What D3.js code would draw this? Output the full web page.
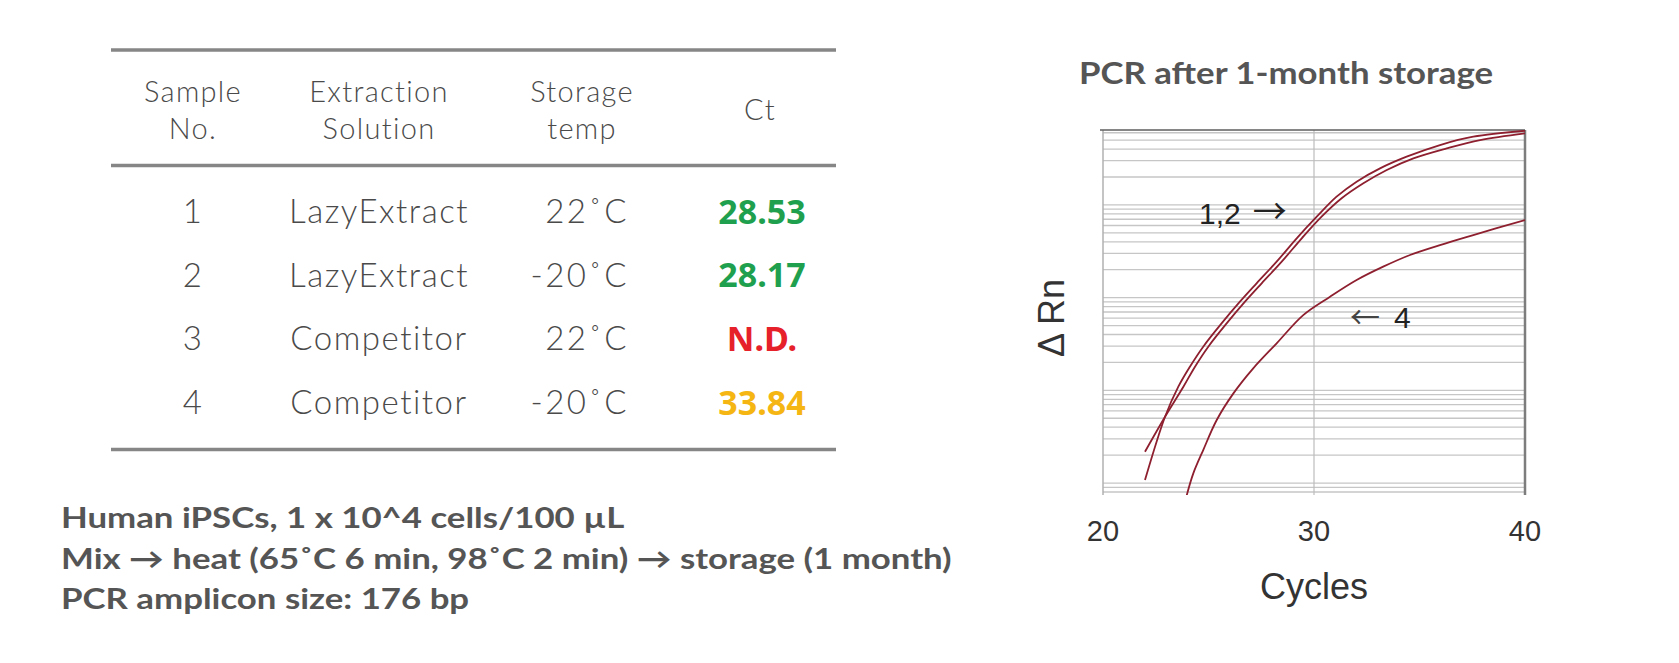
<!DOCTYPE html>
<html>
<head>
<meta charset="utf-8">
<script src="https://cdn.jsdelivr.net/npm/d3@7"></script>
<style>
  html, body { margin: 0; padding: 0; background: #fff; }
  svg { display: block; }
</style>
</head>
<body>
<svg id="chart" width="1679" height="663"></svg>
<script>
// ---------------- DATA ----------------
const headers = [["Sample", "No."], ["Extraction", "Solution"], ["Storage", "temp"], ["Ct"]];
const sampleNo = ["1", "2", "3", "4"];
const extraction = ["LazyExtract", "LazyExtract", "Competitor", "Competitor"];
const storageTemp = ["22˚C", "-20˚C", "22˚C", "-20˚C"];
const ctValues = ["28.53", "28.17", "N.D.", "33.84"];

const notes = [
  "Human iPSCs, 1 x 10^4 cells/100 µL",
  "Mix → heat (65˚C 6 min, 98˚C 2 min) → storage (1 month)",
  "PCR amplicon size: 176 bp"
];

const chartTitle = "PCR after 1-month storage";
const xTicks = [20, 30, 40];

// amplification curves (cycle, ΔRn)
const cyclesA = [21.99, 22.94, 23.57, 24.12, 24.75, 25.62, 26.49, 27.28, 28.23, 29.18, 30.13, 31.07, 32.02, 33.13, 34.39, 35.97, 37.55, 40.0];
const rnA     = [0.001076, 0.00519, 0.01094, 0.01799, 0.02958, 0.05272, 0.09036, 0.1426, 0.2443, 0.4365, 0.7464, 1.227, 1.782, 2.477, 3.311, 4.426, 5.445, 6.31];
const cyclesB = [21.99, 22.94, 23.81, 24.36, 24.99, 25.86, 26.73, 27.52, 28.47, 29.42, 30.36, 31.31, 32.34, 33.45, 34.71, 36.29, 37.87, 40.0];
const rnB     = [0.002178, 0.00519, 0.01094, 0.01799, 0.02958, 0.05272, 0.09036, 0.1426, 0.2443, 0.4365, 0.7464, 1.178, 1.710, 2.377, 3.177, 4.074, 5.012, 5.916];
const cycles4 = [23.97, 24.28, 24.75, 25.39, 26.18, 27.12, 28.23, 29.49, 30.76, 32.02, 33.28, 34.55, 35.97, 37.55, 40.0];
const rn4     = [0.00074, 0.001271, 0.00227, 0.004786, 0.009268, 0.01726, 0.03214, 0.0648, 0.1023, 0.1549, 0.2158, 0.2884, 0.3690, 0.4732, 0.6871];

const labelsCurves = [["1,2", "→"], ["←", "4"]];

// ---------------- DRAW ----------------
const svg = d3.select("#chart");

// ---- Table ----
const tblFont = "Lato, 'Noto Sans', sans-serif";
const tableLeft = 111, tableRight = 836;
const colX = d3.scaleOrdinal().domain([0, 1, 2, 3]).range([193, 379, 582, 760]);
const rowY = d3.scalePoint().domain(sampleNo).range([211.5, 402.5]);
const ctColor = d3.scaleOrdinal().domain(sampleNo).range(["#1fa04e", "#1fa04e", "#e6212a", "#f5b614"]);

svg.selectAll("line.tbl")
  .data([50, 165.5, 449.5])
  .join("line")
  .attr("class", "tbl")
  .attr("x1", tableLeft).attr("x2", tableRight)
  .attr("y1", d => d).attr("y2", d => d)
  .attr("stroke", "#868686").attr("stroke-width", 3.5);

const headG = svg.append("g");
headers.forEach((lines, i) => {
  const t = headG.append("text")
    .attr("x", colX(i))
    .attr("text-anchor", "middle")
    .attr("font-family", tblFont)
    .attr("font-weight", 300)
    .attr("font-size", 29)
    .attr("letter-spacing", 1.3)
    .attr("fill", "#4a4a4a");
  if (lines.length === 1) {
    t.append("tspan").attr("x", colX(i)).attr("y", 110).attr("dy", "0.35em").text(lines[0]);
  } else {
    lines.forEach((l, j) => {
      t.append("tspan").attr("x", colX(i)).attr("y", 92 + j * 36.5).attr("dy", "0.35em").text(l);
    });
  }
});

const bodyG = svg.append("g")
  .attr("font-family", tblFont)
  .attr("font-weight", 300)
  .attr("font-size", 33)
  .attr("letter-spacing", 1.5)
  .attr("fill", "#4a4a4a");

bodyG.selectAll("text.no").data(sampleNo).join("text")
  .attr("class", "no")
  .attr("x", colX(0)).attr("y", d => rowY(d)).attr("dy", "0.35em")
  .attr("text-anchor", "middle").text(d => d);

bodyG.selectAll("text.ext").data(extraction).join("text")
  .attr("class", "ext")
  .attr("x", colX(1)).attr("y", (d, i) => rowY(sampleNo[i])).attr("dy", "0.35em")
  .attr("text-anchor", "middle").text(d => d);

bodyG.selectAll("text.tmp").data(storageTemp).join("text")
  .attr("class", "tmp")
  .attr("x", 629).attr("y", (d, i) => rowY(sampleNo[i])).attr("dy", "0.35em")
  .attr("text-anchor", "end")
  .attr("letter-spacing", 2.5)
  .text(d => d);

svg.selectAll("text.ct").data(ctValues).join("text")
  .attr("class", "ct")
  .attr("x", colX(3) + 2).attr("y", (d, i) => rowY(sampleNo[i])).attr("dy", "0.36em")
  .attr("text-anchor", "middle")
  .attr("font-family", "'Noto Sans', 'Liberation Sans', sans-serif")
  .attr("font-weight", 700)
  .attr("font-size", 34)
  .attr("fill", (d, i) => ctColor(sampleNo[i]))
  .text(d => d);

// ---- Notes (wide geometric face approximated by a horizontally stretched Lato) ----
const noteScaleX = 1.2;
svg.selectAll("text.note").data(notes).join("text")
  .attr("class", "note")
  .attr("transform", (d, i) => `translate(61,${518 + i * 40.5}) scale(${noteScaleX},1)`)
  .attr("dy", "0.36em")
  .attr("font-family", "Lato, 'Open Sans', sans-serif")
  .attr("font-weight", 700)
  .attr("font-size", 29)
  .attr("fill", "#555")
  .text(d => d);

// ---- Chart ----
const plot = { left: 1103, right: 1525, top: 130, bottom: 495 };
const x = d3.scaleLinear().domain([20, 40]).range([plot.left, plot.right]);
const y = d3.scaleLog().domain([Math.pow(10, -3.129), Math.pow(10, 0.808)]).range([plot.bottom, plot.top]);

svg.append("text")
  .attr("transform", "translate(1286,84) scale(1.16,1)")
  .attr("text-anchor", "middle")
  .attr("font-family", "Lato, 'Open Sans', sans-serif")
  .attr("font-weight", 700)
  .attr("font-size", 30)
  .attr("fill", "#555")
  .text(chartTitle);

svg.append("defs").append("clipPath").attr("id", "plotclip")
  .append("rect")
  .attr("x", plot.left).attr("y", plot.top)
  .attr("width", plot.right - plot.left).attr("height", plot.bottom - plot.top);

// horizontal log grid
const gridVals = [];
for (let d = -4; d <= 1; d++) {
  for (let k = 1; k <= 9; k++) {
    const v = k * Math.pow(10, d);
    if (v >= y.domain()[0] && v <= y.domain()[1]) gridVals.push(v);
  }
}
svg.append("g").selectAll("line").data(gridVals).join("line")
  .attr("x1", plot.left).attr("x2", plot.right)
  .attr("y1", d => y(d)).attr("y2", d => y(d))
  .attr("stroke", "#c6c6c6").attr("stroke-width", 1.3);

// vertical line at 30
svg.append("line")
  .attr("x1", x(30)).attr("x2", x(30))
  .attr("y1", plot.top).attr("y2", plot.bottom)
  .attr("stroke", "#bcbcbc").attr("stroke-width", 1.2);

// borders
svg.append("line").attr("x1", plot.left).attr("x2", plot.left).attr("y1", plot.top).attr("y2", plot.bottom)
  .attr("stroke", "#b0b0b0").attr("stroke-width", 1.5);
svg.append("line").attr("x1", plot.right).attr("x2", plot.right).attr("y1", plot.top).attr("y2", plot.bottom)
  .attr("stroke", "#7d7d7d").attr("stroke-width", 2.5);
svg.append("line").attr("x1", plot.left - 3).attr("x2", plot.right).attr("y1", plot.top).attr("y2", plot.top)
  .attr("stroke", "#5e5e5e").attr("stroke-width", 1.6);

// curves
const line = d3.line()
  .x(d => x(d[0])).y(d => y(d[1]))
  .curve(d3.curveCatmullRom.alpha(0.5));

const series = [
  d3.zip(cyclesA, rnA),
  d3.zip(cyclesB, rnB),
  d3.zip(cycles4, rn4)
];
svg.append("g").attr("clip-path", "url(#plotclip)")
  .selectAll("path").data(series).join("path")
  .attr("d", line)
  .attr("fill", "none")
  .attr("stroke", "#8e1f2f")
  .attr("stroke-width", 1.8);

// curve labels
const lblFont = "'Liberation Sans', Arial, sans-serif";
const arrowFont = "'Noto Sans CJK JP', 'DejaVu Sans', sans-serif";
const l1 = svg.append("text")
  .attr("x", 1199).attr("y", 213).attr("dy", "0.35em")
  .attr("font-family", lblFont)
  .attr("font-size", 30).attr("fill", "#222");
l1.append("tspan").text(labelsCurves[0][0]);
l1.append("tspan").attr("dx", 12).attr("font-family", arrowFont).attr("font-size", 34).text(labelsCurves[0][1]);

const l4 = svg.append("text")
  .attr("x", 1350).attr("y", 317).attr("dy", "0.35em")
  .attr("font-family", lblFont)
  .attr("font-size", 30).attr("fill", "#222");
l4.append("tspan").attr("font-family", arrowFont).attr("font-size", 30).attr("fill", "#444").text(labelsCurves[1][0]);
l4.append("tspan").attr("dx", 14).text(labelsCurves[1][1]);

// x tick labels
svg.append("g").selectAll("text").data(xTicks).join("text")
  .attr("x", d => x(d)).attr("y", 531).attr("dy", "0.35em")
  .attr("text-anchor", "middle")
  .attr("font-family", lblFont)
  .attr("font-size", 29).attr("fill", "#333")
  .text(d => d);

svg.append("text")
  .attr("x", x(30)).attr("y", 586).attr("dy", "0.35em")
  .attr("text-anchor", "middle")
  .attr("font-family", lblFont)
  .attr("font-size", 36).attr("fill", "#333")
  .text("Cycles");

svg.append("text")
  .attr("transform", "translate(1051,318) rotate(-90)")
  .attr("dy", "0.35em")
  .attr("text-anchor", "middle")
  .attr("font-family", lblFont)
  .attr("font-size", 36).attr("fill", "#333")
  .text("Δ Rn");
</script>
</body>
</html>
